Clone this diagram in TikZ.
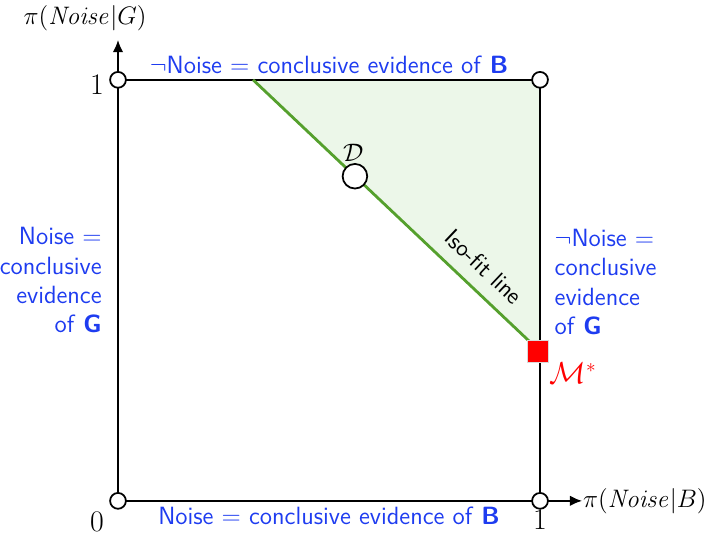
\documentclass[tikz,border=0pt]{standalone}
\usepackage{amsmath}
\usepackage{tikz}
\usetikzlibrary{arrows,arrows.meta,positioning,calc}

\definecolor{evblue}{RGB}{30,60,240}
\definecolor{isogreen}{RGB}{85,160,45}
\definecolor{isofill}{RGB}{236,247,233}

\begin{document}
\begin{tikzpicture}[x=8.44cm, y=8.42cm,
    axis/.style={draw=black, line width=1.1pt},
    corner/.style={draw=black, fill=white, circle, line width=1pt, inner sep=0pt, minimum size=9pt},
    evidence/.style={text=evblue, font=\sffamily\fontsize{14.2}{16.6}\selectfont},
    tick/.style={font=\fontsize{17}{18}\selectfont},
    axlabel/.style={font=\fontsize{15.5}{18}\selectfont}]

\useasboundingbox (-0.2796,-0.0806) rectangle (1.4336,1.1896);

% Unit square
\coordinate (o) at (0,0);
\coordinate (tl) at (0,1);
\coordinate (tr) at (1,1);
\coordinate (br) at (1,0);
\coordinate (yend) at (0,1.095);
\coordinate (xend) at (1.1,0);

% Iso-fit region
\coordinate (isotop) at (0.32,1);
\coordinate (mstar) at (1,0.355);
\fill[isofill] (isotop) -- (tr) -- (mstar) -- cycle;

\draw[axis] (tl) -- (tr) -- (br);
\draw[axis,-{Latex[length=7pt,width=6pt]}] (o) -- (yend);
\draw[axis,-{Latex[length=7pt,width=6pt]}] (o) -- (xend);

\draw[isogreen, line width=1.6pt] (isotop) -- (mstar)
    node[pos=0.75, sloped, above, yshift=4pt, font=\sffamily\fontsize{13.5}{16}\selectfont, text=black] {Iso-fit line}
    node[pos=0.355, corner, minimum size=14pt, label={[yshift=-3pt,xshift=-1pt,text=black]above:{\Large$\mathcal{D}$}}] (data) {};

% Corners
\node[corner] (no) at (o) {};
\node[corner] (ntl) at (tl) {};
\node[corner] (ntr) at (tr) {};
\node[corner] (nbr) at (br) {};

% Best model
\node[draw=black!15, fill=red, rectangle, minimum size=12pt, inner sep=0pt, xshift=-1pt] (best) at (mstar) {};
\node[text=red, anchor=north west, xshift=2pt, yshift=-3pt] at (mstar) {\fontsize{16}{18}\selectfont$\mathcal{M}^{*}$};

% Tick and axis labels
\node[tick] at (-0.05,0.988) {1};
\node[tick] at (-0.05,-0.05) {0};
\node[tick] at (1,-0.045) {1};
\node[axlabel] at (-0.078,1.147) {$\pi(\mathit{Noise}|G)$};
\node[axlabel, right=-3pt of xend] {$\pi(\mathit{Noise}|B)$};

% Evidence labels
\node[evidence, above=0pt] at (0.5,1) {$\neg$Noise $=$ conclusive evidence of \textbf{B}};
\node[evidence, below=0pt] at (0.5,0) {Noise $=$ conclusive evidence of \textbf{B}};
\node[evidence, align=right, anchor=east] at (-0.024,0.524) {Noise $=$\\conclusive\\evidence\\of \textbf{G}};
\node[evidence, align=left, anchor=west] at (1.02,0.52) {$\neg$Noise $=$\\conclusive\\evidence\\of \textbf{G}};
\end{tikzpicture}
\end{document}
